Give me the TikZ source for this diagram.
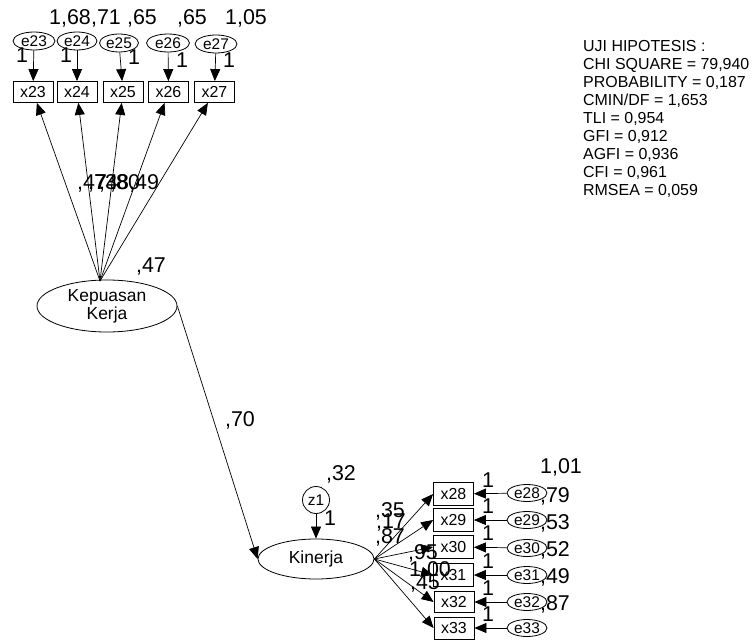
\documentclass[tikz,border=0pt]{standalone}
\usepackage{fontspec}
\setmainfont{Liberation Sans}
\usetikzlibrary{arrows.meta,shapes.geometric}
\begin{document}
\begin{tikzpicture}[x=1bp,y=-1bp,
  arr/.style={-{Triangle[length=12bp,width=10bp]}, line width=0.7bp},
  obs/.style={draw, line width=0.8bp, minimum width=40bp, minimum height=21bp, inner sep=0pt, font=\fontsize{16}{18}\selectfont},
  err/.style={draw, ellipse, line width=0.8bp, minimum width=40bp, minimum height=18bp, inner sep=0pt, font=\fontsize{15.5}{17}\selectfont},
  lat/.style={draw, ellipse, line width=0.8bp, inner sep=0pt, font=\fontsize{17.5}{18}\selectfont, align=center},
  num/.style={inner sep=0pt, text height=15.4bp, text depth=0pt, font=\fontsize{21.5}{24}\selectfont},
  stat/.style={inner sep=0pt, align=left, font=\fontsize{16}{18}\selectfont}
]
\useasboundingbox (0,0) rectangle (754,640);

% ---------- top indicators ----------
\node[obs] (x23) at (33,92) {x23};
\node[obs] (x24) at (77,92) {x24};
\node[obs] (x25) at (123,92) {x25};
\node[obs] (x26) at (168.5,92) {x26};
\node[obs] (x27) at (214.5,92) {x27};

\node[err, minimum width=42bp] (e23) at (34,41) {e23};
\node[err] (e24) at (77,41) {e24};
\node[err, minimum width=39bp] (e25) at (119,43) {e25};
\node[err, minimum width=43bp] (e26) at (168,43) {e26};
\node[err, minimum width=42bp] (e27) at (216,44) {e27};

\foreach \i in {23,...,27} { \draw[arr] (e\i) -- (x\i); }

\node[num] (v23) at (70,17) {1,68};
\node[num] (v24) at (106,17) {,71};
\node[num] (v25) at (142,17) {,65};
\node[num] (v26) at (192,17) {,65};
\node[num] (v27) at (246,17) {1,05};

\node[num] (w23) at (22,55) {1};
\node[num] (w24) at (66,55) {1};
\node[num] (w25) at (134,57) {1};
\node[num] (w26) at (182,60) {1};
\node[num] (w27) at (229,60) {1};

% ---------- Kepuasan Kerja ----------
\node[lat, minimum width=140bp, minimum height=52bp] (kk) at (107,306) {Kepuasan\\Kerja};
\coordinate (apex) at (100,281);
\foreach \i in {23,...,27} { \draw[arr] (apex) -- (x\i); }

\node[num, anchor=west] (l23) at (77,182) {,47};
\node[num, anchor=west] (l24) at (88,182) {,74};
\node[num, anchor=west] (l25) at (99,182) {,38};
\node[num, anchor=west] (l26) at (110,182) {,80};
\node[num, anchor=west] (l27) at (129,182) {,49};

\node[num] (kkvar) at (151,265) {,47};

% ---------- Kinerja ----------
\node[lat, minimum width=116bp, minimum height=40bp] (kin) at (316,559) {Kinerja};
\draw[arr] (kk.east) -- (kin.west);
\node[num] (path) at (240,419) {,70};

\node[draw, circle, line width=0.8bp, minimum size=27bp, inner sep=0pt, font=\fontsize{15.5}{17}\selectfont] (z1) at (316,500) {z1};
\draw[arr] (z1) -- (kin);
\node[num] (z1var) at (341,473) {,32};
\node[num] (z1w) at (330,518) {1};

% ---------- right indicators ----------
\node[obs, minimum height=23bp] (x28) at (453.5,494) {x28};
\node[obs, minimum height=23bp] (x29) at (453.5,520) {x29};
\node[obs, minimum height=23bp] (x30) at (453.5,547) {x30};
\node[obs, minimum height=23bp] (x31) at (453.5,575) {x31};
\node[obs, minimum height=21bp] (x32) at (454,602) {x32};
\node[obs, minimum height=22bp] (x33) at (454,628) {x33};

\node[err, minimum height=17bp] (e28) at (527,493) {e28};
\node[err, minimum height=17bp] (e29) at (527,520) {e29};
\node[err, minimum height=17bp] (e30) at (527,548) {e30};
\node[err, minimum height=17bp] (e31) at (527,575) {e31};
\node[err, minimum height=17bp] (e32) at (527,602) {e32};
\node[err, minimum height=17bp] (e33) at (527,628) {e33};

\foreach \i in {28,...,33} {
  \draw[arr] (kin.east) -- (x\i.west);
  \draw[arr] (e\i) -- (x\i);
}

\node[num] (w28) at (488,480) {1};
\node[num] (w29) at (488,506) {1};
\node[num] (w30) at (488,533) {1};
\node[num] (w31) at (488,561) {1};
\node[num] (w32) at (488,588) {1};
\node[num] (w33) at (488,614) {1};

\node[num] (v28) at (561,466) {1,01};
\node[num] (v29) at (555,495) {,79};
\node[num] (v30) at (555,522) {,53};
\node[num] (v31) at (555,549) {,52};
\node[num] (v32) at (555,576) {,49};
\node[num] (v33) at (555,603) {,87};

\node[num] (l28) at (390,510) {,35};
\node[num] (l29) at (391,521) {,17};
\node[num] (l30) at (390,536) {,87};
\node[num] (l31) at (423,552) {,95};
\node[num] (l32) at (430,569) {1,00};
\node[num] (l33) at (425,582) {,45};

% ---------- fit statistics ----------
\node[stat, anchor=north west] (stats) at (583,40.5) {UJI HIPOTESIS :\\
CHI SQUARE = 79,940\\
PROBABILITY = 0,187\\
CMIN/DF = 1,653\\
TLI = 0,954\\
GFI = 0,912\\
AGFI = 0,936\\
CFI = 0,961\\
RMSEA = 0,059};
\end{tikzpicture}
\end{document}
